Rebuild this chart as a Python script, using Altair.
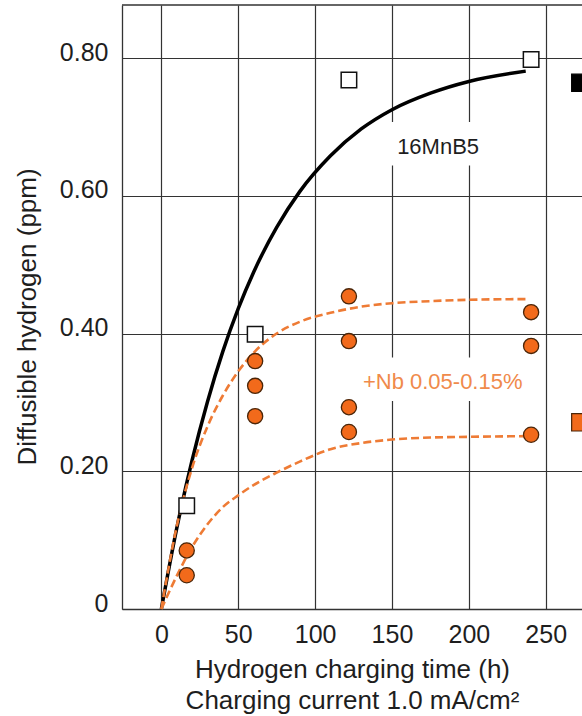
import altair as alt
import pandas as pd

# --- measured points -------------------------------------------------------
# 16MnB5 reference steel (open squares)
mnb_t = [16.5, 61, 122, 240.5]
mnb_h = [0.150, 0.399, 0.768, 0.798]

# Nb-alloyed grades, +Nb 0.05-0.15 % (filled circles)
nb_t = [16.5, 16.5, 61, 61, 61, 122, 122, 122, 122, 240.5, 240.5, 240.5]
nb_h = [0.085, 0.049, 0.360, 0.324, 0.280, 0.454, 0.389, 0.293, 0.257, 0.431, 0.382, 0.253]

# series markers at the right-hand edge (filled squares)
edge_t = [272.5, 272.5]
edge_h = [0.764, 0.271]
edge_series = ["16MnB5", "+Nb"]

# --- fitted saturation curves ----------------------------------------------
curve_t = [0, 10, 20, 30, 40, 50, 60, 75, 90, 110, 130, 150, 175, 200, 237]
mnb_curve = [0, 0.117, 0.216, 0.301, 0.374, 0.436, 0.489, 0.554, 0.606, 0.658,
             0.697, 0.725, 0.749, 0.766, 0.781]
nb_upper = [0, 0.120, 0.205, 0.265, 0.310, 0.345, 0.372, 0.400, 0.417, 0.430,
            0.439, 0.444, 0.447, 0.449, 0.450]
nb_lower = [0, 0.048, 0.090, 0.123, 0.148, 0.165, 0.180, 0.198, 0.214, 0.232,
            0.241, 0.246, 0.249, 0.250, 0.251]

# --- annotations ----------------------------------------------------------
note_text = ["16MnB5", "+Nb 0.05-0.15%"]
note_t = [180, 183]
note_h = [0.671, 0.329]

# --- axes -----------------------------------------------------------------
x_ticks = [0, 50, 100, 150, 200, 250]
y_ticks = [0, 0.2, 0.4, 0.6, 0.8]
x_title = ["Hydrogen charging time (h)", "Charging current 1.0 mA/cm\u00b2"]
y_title = "Diffusible hydrogen (ppm)"

ORANGE = "#F26A1B"
ORANGE_LINE = "#EE7B35"
ORANGE_TEXT = "#F08A4B"
GRID = "#333333"
INK = "#1e1e1e"
FONT = "Liberation Sans"

W, H = 460, 604
x_scale = alt.Scale(domain=[-25.6, 273.6], nice=False, zero=False)
y_scale = alt.Scale(domain=[0, 0.877], nice=False, zero=False)

x_axis = alt.Axis(
    values=x_ticks, ticks=False, labelFontSize=25, labelColor=INK,
    labelPadding=13, labelFont=FONT, domainColor=GRID, domainWidth=1.3,
    grid=True, gridColor=GRID, gridWidth=1.2, gridOpacity=1,
    title=x_title, titleFont=FONT, titleFontSize=26, titleFontWeight="normal",
    titleColor=INK, titleLineHeight=31, titleBaseline="alphabetic",
    titleAlign="center", titleX=W / 2, titleY=68,
)
y_axis = alt.Axis(
    values=y_ticks, ticks=False, labelFontSize=25, labelColor=INK,
    labelPadding=14, labelFont=FONT, labelBaseline="middle", labelOffset=-6,
    labelExpr="datum.value == 0 ? '0' : format(datum.value, '.2f')",
    domainColor=GRID, domainWidth=1.3,
    grid=True, gridColor=GRID, gridWidth=1.2, gridOpacity=1,
    title=y_title, titleFont=FONT, titleFontSize=26, titleFontWeight="normal",
    titleColor=INK, titleAngle=270, titleBaseline="alphabetic",
    titleAlign="center", titleX=-87, titleY=311.5,
)

X = alt.X("t:Q", scale=x_scale, axis=x_axis)
Y = alt.Y("h:Q", scale=y_scale, axis=y_axis)

# white backgrounds behind the two series labels
box_df = pd.DataFrame({
    "t": [note_t[0] - 34, note_t[1] - 55],
    "t2": [note_t[0] + 34, note_t[1] + 57],
    "h": [note_h[0] - 0.027, note_h[1] - 0.027],
    "h2": [note_h[0] + 0.036, note_h[1] + 0.036],
})
boxes = alt.Chart(box_df).mark_rect(color="white").encode(
    x=X, x2="t2:Q", y=Y, y2="h2:Q"
)

mnb_line = alt.Chart(pd.DataFrame({"t": curve_t, "h": mnb_curve})).mark_line(
    color="black", strokeWidth=3.5, interpolate="monotone"
).encode(x=X, y=Y)

nb_df = pd.concat([
    pd.DataFrame({"t": curve_t, "h": nb_upper, "fit": "upper"}),
    pd.DataFrame({"t": curve_t, "h": nb_lower, "fit": "lower"}),
])
nb_lines = alt.Chart(nb_df).mark_line(
    color=ORANGE_LINE, strokeWidth=2.6, strokeDash=[8, 4], interpolate="monotone"
).encode(x=X, y=Y, detail="fit:N")

mnb_pts = alt.Chart(pd.DataFrame({"t": mnb_t, "h": mnb_h})).mark_point(
    shape="square", filled=True, fill="white", stroke="#111111",
    strokeWidth=1.5, size=240, opacity=1
).encode(x=X, y=Y)

nb_pts = alt.Chart(pd.DataFrame({"t": nb_t, "h": nb_h})).mark_point(
    shape="circle", filled=True, fill=ORANGE, stroke="#4a2508",
    strokeWidth=1.3, size=230, opacity=1
).encode(x=X, y=Y)

edge_pts = alt.Chart(
    pd.DataFrame({"t": edge_t, "h": edge_h, "series": edge_series})
).mark_point(shape="square", filled=True, strokeWidth=1.2, size=300, opacity=1).encode(
    x=X, y=Y,
    fill=alt.Fill("series:N", scale=alt.Scale(domain=["16MnB5", "+Nb"],
                                              range=["#000000", ORANGE]), legend=None),
    stroke=alt.Stroke("series:N", scale=alt.Scale(domain=["16MnB5", "+Nb"],
                                                  range=["#000000", "#4a2508"]), legend=None),
)

notes_df = pd.DataFrame({"t": note_t, "h": note_h, "label": note_text,
                         "series": ["16MnB5", "+Nb"]})
notes = alt.Chart(notes_df).mark_text(
    font=FONT, fontSize=22, align="center", baseline="middle"
).encode(
    x=X, y=Y, text="label:N",
    color=alt.Color("series:N", scale=alt.Scale(domain=["16MnB5", "+Nb"],
                                                range=[INK, ORANGE_TEXT]), legend=None),
)

# frame line along the top of the plot area
top_rule = alt.Chart(pd.DataFrame({"a": [0]})).mark_rule(
    color=GRID, strokeWidth=1.3
).encode(y=alt.value(0), x=alt.value(0), x2=alt.value(W))

chart = alt.layer(
    boxes, mnb_line, nb_lines, mnb_pts, nb_pts, edge_pts, notes, top_rule
).resolve_scale(fill="independent", stroke="independent", color="independent").properties(
    width=W, height=H,
    autosize=alt.AutoSizeParams(type="none"),
    padding={"left": 122, "top": 5, "right": 0, "bottom": 107},
    background="white",
).configure_view(stroke=None)

chart.save("out.html", embed_options={"renderer": "svg", "actions": False})
